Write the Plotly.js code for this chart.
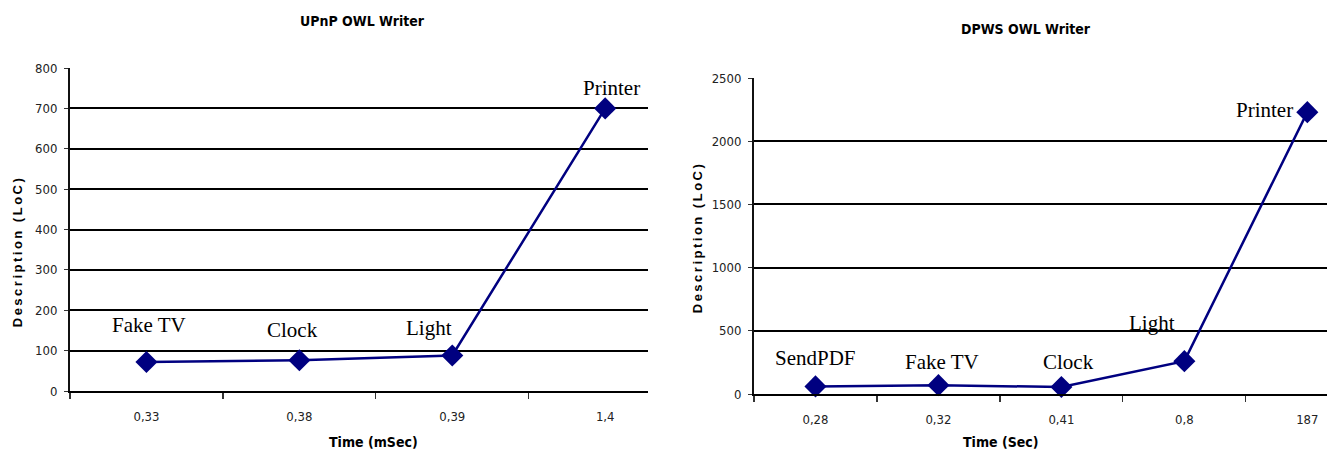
<!DOCTYPE html>
<html>
<head>
<meta charset="utf-8">
<script src="https://cdn.plot.ly/plotly-3.0.1.min.js"></script>
<style>
html,body{margin:0;padding:0;background:#fff;}
#chart{width:1333px;height:457px;}
</style>
</head>
<body>
<div id="chart"></div>
<script>
// ---- Data ----
const upnpTimes = ['0,33', '0,38', '0,39', '1,4'];
const upnpDevices = ['Fake TV', 'Clock', 'Light', 'Printer'];
const upnpLoC = [72, 76, 88, 700];

const dpwsTimes = ['0,28', '0,32', '0,41', '0,8', '187'];
const dpwsDevices = ['SendPDF', 'Fake TV', 'Clock', 'Light', 'Printer'];
const dpwsLoC = [60, 70, 55, 260, 2230];

const upnpYTicks = [0, 100, 200, 300, 400, 500, 600, 700, 800];
const dpwsYTicks = [0, 500, 1000, 1500, 2000, 2500];

// ---- Style ----
const W = 1333, H = 457;
const NAVY = '#000080';
const tickFont = {family: '"DejaVu Sans Condensed", "Liberation Sans Narrow", "Liberation Sans", Arial, sans-serif', size: 13, color: '#222'};
const labelFont = {family: '"Liberation Serif", "Times New Roman", serif', size: 21, color: '#000'};
const titleFont = {family: '"DejaVu Sans Condensed", "Liberation Sans Narrow", "Liberation Sans", Arial, sans-serif', size: 14, color: '#000', weight: 'bold'};

function px2x(p){return p / W;}
function px2y(p){return 1 - p / H;}

const lineStyle = {color: NAVY, width: 2.5};
const markerStyle = {symbol: 'diamond', size: 17, color: NAVY};

const traces = [
  {x: upnpTimes, y: upnpLoC, type: 'scatter', mode: 'lines+markers', xaxis: 'x', yaxis: 'y',
   line: lineStyle, marker: markerStyle, cliponaxis: false, hoverinfo: 'skip'},
  {x: dpwsTimes, y: dpwsLoC, type: 'scatter', mode: 'lines+markers', xaxis: 'x2', yaxis: 'y2',
   line: lineStyle, marker: markerStyle, cliponaxis: false, hoverinfo: 'skip'}
];

function yAxis(domTop, domBot, range, ticks){
  return {
    domain: [px2y(domBot), px2y(domTop)], range: range, fixedrange: true,
    tickvals: ticks, ticktext: ticks.map(String),
    showgrid: true, gridcolor: '#000', gridwidth: 2,
    zeroline: false, showline: true, linecolor: '#111', linewidth: 2,
    ticks: 'outside', ticklen: 4, tickcolor: '#333', tickwidth: 1,
    tickfont: tickFont, ticklabelstandoff: 4, automargin: false
  };
}
function xAxis(domL, domR, cats, rangeEnd, anchor){
  return {
    domain: [px2x(domL), px2x(domR)], type: 'category', categoryarray: cats,
    range: [-0.5, rangeEnd], fixedrange: true, anchor: anchor,
    showgrid: false, zeroline: false, showline: true, linecolor: '#000', linewidth: 2,
    ticks: 'outside', tickson: 'boundaries', ticklen: 6, tickcolor: '#333', tickwidth: 1.2,
    tickfont: tickFont, ticklabelstandoff: 12, automargin: false
  };
}

const annotations = [];
// data labels (offset in pixels from each point); x given as category index
const upnpShift = [[3, 37], [-7, 30], [-23, 27], [6, 20]];
upnpDevices.forEach((d, i) => annotations.push({
  x: i, y: upnpLoC[i], xref: 'x', yref: 'y', text: d, showarrow: false,
  xshift: upnpShift[i][0], yshift: upnpShift[i][1], font: labelFont
}));
const dpwsShift = [[0, 28], [4, 23], [7, 25], [-32, 38], [-43, 2]];
dpwsDevices.forEach((d, i) => annotations.push({
  x: i, y: dpwsLoC[i], xref: 'x2', yref: 'y2', text: d, showarrow: false,
  xshift: dpwsShift[i][0], yshift: dpwsShift[i][1], font: labelFont
}));

// titles
function paperText(text, xp, yp, font, angle){
  return {x: px2x(xp), y: px2y(yp), xref: 'paper', yref: 'paper', text: text, showarrow: false,
          xanchor: 'center', yanchor: 'middle', font: font, textangle: angle || 0};
}
annotations.push(paperText('UPnP OWL Writer', 362, 21, titleFont));
annotations.push(paperText('DPWS OWL Writer', 1026, 29, titleFont));
annotations.push(paperText('Time (mSec)', 373, 442, titleFont));
annotations.push(paperText('Time (Sec)', 1001, 442, titleFont));
const yTitleFont = {family: '"Liberation Sans", Arial, sans-serif', size: 13, color: '#000', weight: 'bold'};
annotations.push(paperText('Description (LoC)', 17, 252, yTitleFont, -90));
annotations.push(paperText('Description (LoC)', 697, 238, yTitleFont, -90));

const layout = {
  width: W, height: H, margin: {l: 0, r: 0, t: 0, b: 0},
  paper_bgcolor: '#fff', plot_bgcolor: '#fff', showlegend: false,
  xaxis: xAxis(70, 648, upnpTimes, 3.28, 'y'),
  yaxis: yAxis(68, 391, [0, 800], upnpYTicks),
  xaxis2: xAxis(754, 1327, dpwsTimes, 4.16, 'y2'),
  yaxis2: yAxis(78, 394, [0, 2500], dpwsYTicks),
  annotations: annotations
};
layout.yaxis.anchor = 'x';
layout.yaxis2.anchor = 'x2';

Plotly.newPlot('chart', traces, layout, {displayModeBar: false, staticPlot: true}).then(() => {
  document.querySelectorAll('.annotation-text').forEach(el => {
    if (el.textContent === 'Description (LoC)') el.style.letterSpacing = '2.5px';
  });
});
</script>
</body>
</html>
